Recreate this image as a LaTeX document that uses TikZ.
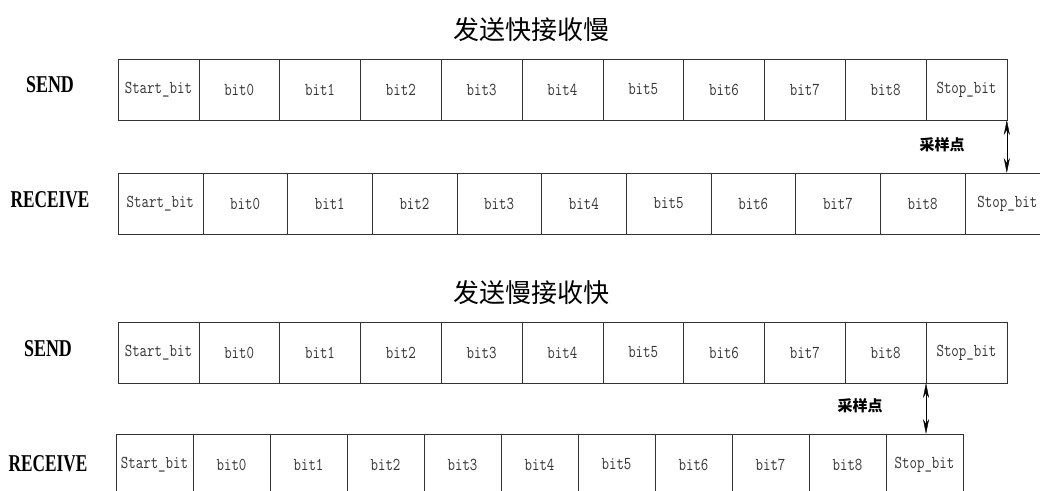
\documentclass[tikz,border=0pt]{standalone}
\usepackage{fontspec}
\setmainfont{Liberation Serif}
\newfontfamily\cjk{Noto Sans CJK SC}
\usepackage{tikz}
\usetikzlibrary{arrows.meta}
\newcommand{\tall}[1]{\scalebox{1}[1.25]{#1}}

\begin{document}
\begin{tikzpicture}[x=1pt,y=-1pt,>={Stealth[length=15pt,width=6pt]},line cap=round,
  cell/.style={draw=black!80,rectangle,inner sep=0pt,outer sep=0pt,minimum height=61pt,
    text=black!80,font=\ttfamily\fontsize{14.5}{14.5}\selectfont},
  rowlabel/.style={font=\bfseries\fontsize{23}{23}\selectfont},
  title/.style={font=\cjk\fontsize{26}{26}\selectfont},
  sample/.style={font=\cjk\bfseries\fontsize{15}{15}\selectfont}]
\clip (0,0) rectangle (1040,490);
% fast sender, slow receiver
\node[title] (t1) at (531,30) {发送快接收慢};
\node[rowlabel] (l1) at (50,85) {\scalebox{0.78}[1.05]{SEND}};
\node[rowlabel] (l2) at (50,200) {\scalebox{0.75}[1.05]{RECEIVE}};
\foreach \t [count=\i from 0] in {Start\_bit,bit0,bit1,bit2,bit3,bit4,bit5,bit6,bit7,bit8,Stop\_bit}
  \node[cell,minimum width=80.8pt] (ss\i) at ({118+80.8*\i+40.4},89.5) {\tall{\t}};
\foreach \t [count=\i from 0] in {Start\_bit,bit0,bit1,bit2,bit3,bit4,bit5,bit6,bit7,bit8,Stop\_bit}
  \node[cell,minimum width=84.7pt] (sr\i) at ({118+84.7*\i+42.35},203.5) {\tall{\t}};
\draw[<->] (ss10.south east) -- (ss10.south east |- sr10.north);
\node[sample] (p1) at (942,145) {采样点};
% slow sender, fast receiver
\node[title] (t2) at (531,293) {发送慢接收快};
\node[rowlabel] (l3) at (48,349) {\scalebox{0.78}[1.05]{SEND}};
\node[rowlabel] (l4) at (48,464) {\scalebox{0.75}[1.05]{RECEIVE}};
\foreach \t [count=\i from 0] in {Start\_bit,bit0,bit1,bit2,bit3,bit4,bit5,bit6,bit7,bit8,Stop\_bit}
  \node[cell,minimum width=80.8pt] (bs\i) at ({118+80.8*\i+40.4},352.5) {\tall{\t}};
\foreach \t [count=\i from 0] in {Start\_bit,bit0,bit1,bit2,bit3,bit4,bit5,bit6,bit7,bit8,Stop\_bit}
  \node[cell,minimum width=77pt] (br\i) at ({116+77*\i+38.5},464.5) {\tall{\t}};
\draw[<->] (bs10.south west) -- (bs10.south west |- br10.north);
\node[sample] (p2) at (860,406) {采样点};
\end{tikzpicture}
\end{document}
